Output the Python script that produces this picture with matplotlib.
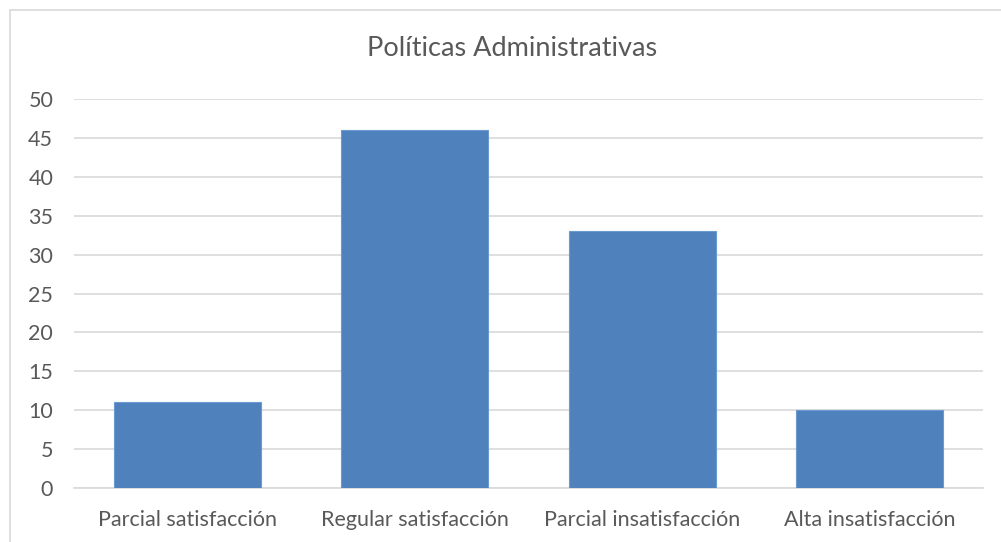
import matplotlib
matplotlib.use("Agg")
import matplotlib.pyplot as plt
from matplotlib.patches import Rectangle

categories = ["Parcial satisfacción", "Regular satisfacción", "Parcial insatisfacción", "Alta insatisfacción"]
values = [11, 46, 33, 10]
y_ticks = [0, 5, 10, 15, 20, 25, 30, 35, 40, 45, 50]

text_color = "#595959"
plt.rcParams["font.family"] = ["Lato", "DejaVu Sans"]

fig = plt.figure(figsize=(10.01, 5.42), dpi=100)
ax = fig.add_axes([74 / 1001, 1 - 488 / 542, (983 - 74) / 1001, (488 - 99) / 542])

# chart frame (only top and left edge visible in the original)
fig.patches.append(Rectangle((10 / 1001, -0.5), 1.5, 1 - 10 / 542 + 0.5,
                             transform=fig.transFigure, fill=False,
                             edgecolor="#D9D9D9", linewidth=1.2))

x = range(len(categories))
ax.bar(x, values, width=0.647, color="#4F81BD", edgecolor="#6A9AD0", linewidth=0.8, zorder=3)

ax.set_xlim(-0.5, len(categories) - 0.5)
ax.set_ylim(0, 50)
ax.set_yticks(y_ticks)
ax.set_xticks(list(x))
ax.set_xticklabels(categories)

ax.yaxis.grid(True, color="#D9D9D9", linewidth=1.2, zorder=0)
ax.set_axisbelow(True)
for s in ["top", "right", "left"]:
    ax.spines[s].set_visible(False)
ax.spines["bottom"].set_color("#D9D9D9")
ax.spines["bottom"].set_linewidth(1.2)

ax.tick_params(axis="both", length=0, colors=text_color, labelsize=15.5)
ax.tick_params(axis="y", pad=15)
ax.tick_params(axis="x", pad=16)

fig.text(512 / 1001, 1 - 48 / 542, "Políticas Administrativas", ha="center", va="center",
         fontsize=19.5, color=text_color)

fig.savefig("out.png", dpi=100, facecolor="white")
